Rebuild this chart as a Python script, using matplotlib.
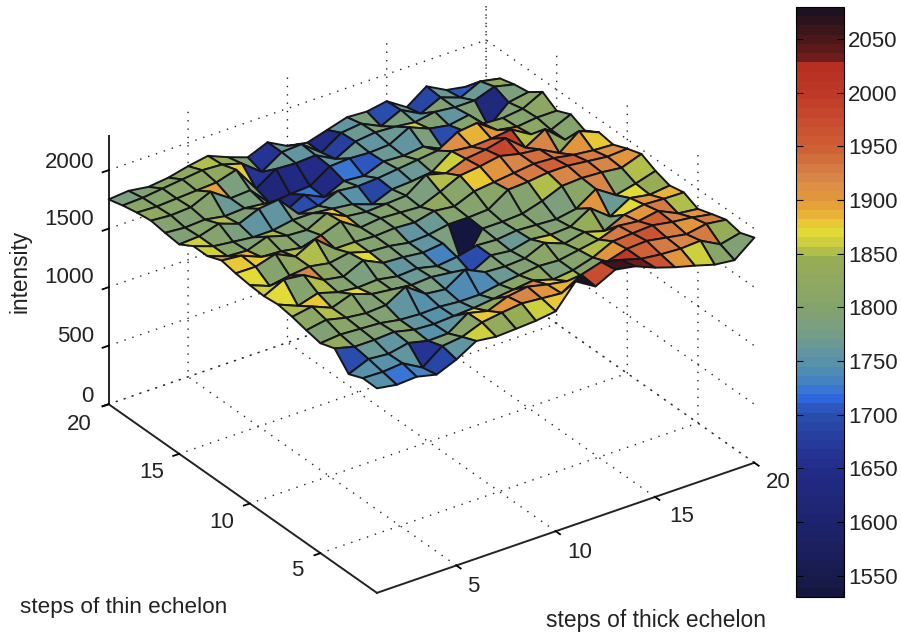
import numpy as np
import matplotlib
matplotlib.use('Agg')
import matplotlib.pyplot as plt
from matplotlib.colors import LinearSegmentedColormap, Normalize
from matplotlib.cm import ScalarMappable

plt.rcParams['font.family'] = ['Liberation Sans', 'DejaVu Sans']
plt.rcParams['grid.linestyle'] = (0, (1, 5))
plt.rcParams['grid.color'] = '#222222'
plt.rcParams['grid.linewidth'] = 1.0

# intensity, one row per thin echelon step
row01 = [1748, 1720, 1730, 1690, 1760, 1860, 1838, 1847, 1857, 1880, 2077, 1975, 2060, 2030, 1960, 1905, 1860, 1810, 1790, 1924]
row02 = [1750, 1745, 1760, 1665, 1790, 1810, 1875, 1900, 1920, 1905, 1890, 1990, 2040, 2000, 1950, 1930, 1920, 1930, 1840, 1880]
row03 = [1700, 1770, 1755, 1790, 1750, 1755, 1870, 1830, 1895, 1920, 1880, 1850, 1800, 1900, 1950, 1960, 1930, 1900, 1930, 1907]
row04 = [1835, 1790, 1790, 1800, 1760, 1750, 1760, 1770, 1790, 1810, 1830, 1780, 1800, 1850, 1930, 1940, 1950, 1920, 1900, 1870]
row05 = [1794, 1810, 1800, 1790, 1760, 1750, 1755, 1740, 1740, 1770, 1790, 1810, 1800, 1830, 1860, 1920, 1900, 1930, 1850, 1830]
row06 = [1820, 1850, 1810, 1790, 1800, 1900, 1780, 1760, 1870, 1790, 1780, 1790, 1865, 1800, 1840, 1790, 1870, 1900, 1890, 1886]
row07 = [1850, 1880, 1810, 1870, 1810, 1790, 1770, 1780, 1760, 1700, 1790, 1770, 1810, 1790, 1800, 1900, 1770, 1870, 1840, 1860]
row08 = [1870, 1800, 1850, 1800, 1780, 1790, 1760, 1770, 1730, 1750, 1790, 1780, 1800, 1790, 1780, 1810, 1920, 1810, 1850, 1900]
row09 = [1857, 1940, 1920, 1820, 1790, 1870, 1790, 1780, 1760, 1780, 1535, 1790, 1790, 1800, 1850, 1920, 1930, 1920, 1900, 1960]
row10 = [1866, 1800, 1830, 1850, 1820, 1850, 1800, 1790, 1760, 1770, 1800, 1800, 1810, 1920, 1930, 1950, 1950, 1930, 1910, 1920]
row11 = [1882, 1880, 1930, 1850, 1940, 1800, 1800, 1790, 1800, 1790, 1830, 1810, 1880, 1900, 1920, 1940, 1930, 1900, 1880, 1870]
row12 = [1907, 1890, 1820, 1810, 1780, 1830, 1890, 1780, 1800, 1790, 1780, 1850, 1930, 1950, 1980, 1940, 1920, 1830, 1960, 1890]
row13 = [1860, 1800, 1790, 1850, 1800, 1790, 1875, 1790, 1770, 1780, 1790, 1910, 1865, 1930, 1950, 1990, 1850, 1950, 1800, 1820]
row14 = [1860, 1800, 1780, 1760, 1760, 1790, 1790, 1770, 1750, 1690, 1760, 1770, 1790, 1910, 1890, 1900, 1920, 1820, 1800, 1874]
row15 = [1790, 1800, 1850, 1790, 1860, 1880, 1700, 1710, 1780, 1760, 1770, 1790, 1810, 1830, 1930, 1950, 1830, 1800, 1820, 1820]
row16 = [1804, 1790, 1800, 1770, 1780, 1760, 1630, 1720, 1640, 1720, 1705, 1770, 1760, 1780, 1700, 1800, 1800, 1790, 1810, 1896]
row17 = [1823, 1810, 1820, 1895, 1780, 1790, 1620, 1640, 1650, 1760, 1770, 1760, 1770, 1860, 1790, 1760, 1790, 1630, 1780, 1810]
row18 = [1807, 1800, 1810, 1820, 1830, 1880, 1660, 1770, 1760, 1770, 1680, 1770, 1790, 1780, 1760, 1790, 1770, 1770, 1830, 1790]
row19 = [1783, 1790, 1810, 1830, 1850, 1840, 1790, 1660, 1770, 1780, 1650, 1760, 1780, 1700, 1780, 1690, 1770, 1710, 1790, 1756]
row20 = [1750, 1765, 1740, 1760, 1800, 1830, 1760, 1700, 1770, 1680, 1650, 1700, 1750, 1740, 1770, 1660, 1780, 1690, 1660, 1620]
rows = [row01, row02, row03, row04, row05, row06, row07, row08, row09, row10,
        row11, row12, row13, row14, row15, row16, row17, row18, row19, row20]

steps = list(range(1, 21))
floor_ticks = [5, 10, 15, 20]
z_ticks = [0, 500, 1000, 1500, 2000]
cbar_ticks = [1550, 1600, 1650, 1700, 1750, 1800, 1850, 1900, 1950, 2000, 2050]

# colormap stops
vmin, vmax = 1530, 2080
stop_vals = [1530, 1550, 1600, 1650, 1700, 1715, 1735, 1750, 1780, 1800, 1845, 1862, 1872, 1885, 1900, 1920, 1950, 2000, 2030, 2036, 2060, 2080]
stop_cols = ['#15163f', '#1a1c50', '#1e2470', '#232d8a', '#2a4fb0', '#2f6ae0', '#4a88b8', '#5a92a8',
             '#7a9f80', '#85a36c', '#97ad55', '#cfd03e', '#e6dc35', '#e9b835', '#e59a38', '#d88a4a',
             '#cf6035', '#c03a28', '#b52e22', '#701c1c', '#3e1518', '#1d1220']
cmap = LinearSegmentedColormap.from_list('scan', [((v - vmin) / (vmax - vmin), c) for v, c in zip(stop_vals, stop_cols)], N=64)
norm = Normalize(vmin, vmax)

W, H = 901, 634
fig = plt.figure(figsize=(W / 100, H / 100), dpi=100)
ax = fig.add_axes([70 / W, -27 / H, 704 / W, 704 / H], projection='3d', proj_type='ortho')
ax.patch.set_alpha(0)
ax.view_init(elev=29.5, azim=-125)
ax.set_box_aspect((461, 468, 308))

X, Y = np.meshgrid(steps, steps)
Z = np.array(rows, dtype=float)
ax.plot_surface(X, Y, Z, facecolors=cmap(norm(Z)), rstride=1, cstride=1,
                edgecolor='#15151a', linewidth=1.4, shade=False, antialiased=True)

ax.set_xlim(1, 20)
ax.set_ylim(1, 20)
ax.set_zlim(0, 2290)
ax.set_xticks(floor_ticks)
ax.set_yticks(floor_ticks)
ax.set_zticks(z_ticks)
ax.set_xticklabels([])
ax.set_yticklabels([])
ax.set_zticklabels([])
for a in (ax.xaxis, ax.yaxis, ax.zaxis):
    a.set_pane_color((1, 1, 1, 0))
    a.pane.set_edgecolor((1, 1, 1, 0))
    a.line.set_color('#222222')
    a.line.set_linewidth(1.4)
    a._axinfo['tick']['inward_factor'] = 0.2
    a._axinfo['tick']['outward_factor'] = 0.0
    a._axinfo['tick']['linewidth'] = {True: 1.3, False: 0.5}

# tick labels sit off the 3d axes in the picture, placed by hand in pixels
x_label_px = [(473, 587), (580, 553), (682, 517), (778, 482)]
y_label_px = [(297, 571), (222, 523), (152, 473), (79, 424)]
z_label_py = [396, 337, 278, 219, 162]
for t, (px, py) in zip(floor_ticks, x_label_px):
    fig.text(px / W, 1 - py / H, str(t), fontsize=16, ha='center', va='center', color='#222222')
for t, (px, py) in zip(floor_ticks, y_label_px):
    fig.text(px / W, 1 - py / H, str(t), fontsize=16, ha='center', va='center', color='#222222')
for t, py in zip(z_ticks, z_label_py):
    fig.text(94 / W, 1 - py / H, str(t), fontsize=16, ha='right', va='center', color='#222222')

fig.text(20 / W, 1 - 607 / H, 'steps of thin echelon', fontsize=16.2, va='center', color='#222222')
fig.text(546 / W, 1 - 621 / H, 'steps of thick echelon', fontsize=16.4, va='center', color='#222222')
fig.text(20 / W, 1 - 271 / H, 'intensity', fontsize=16.3, rotation=90, va='center', ha='center', color='#222222')

cax = fig.add_axes([796 / W, 1 - 597 / H, 48 / W, 590 / H])
fig.colorbar(ScalarMappable(norm=norm, cmap=cmap), cax=cax, ticks=cbar_ticks)
cax.tick_params(direction='in', left=True, right=True, labelsize=16, length=5, pad=3, labelcolor='#222222')

fig.savefig('out.png', dpi=100)
